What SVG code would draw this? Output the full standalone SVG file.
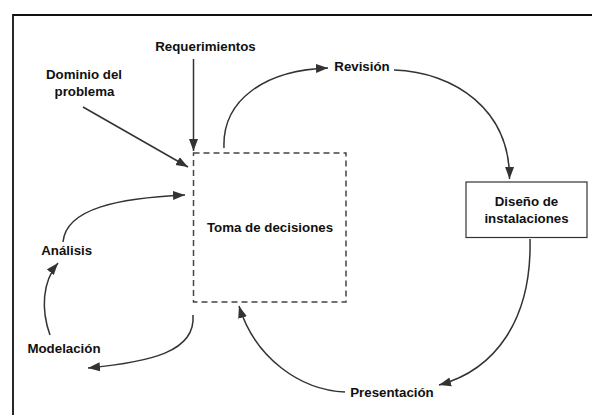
<svg xmlns="http://www.w3.org/2000/svg" width="592" height="415" viewBox="0 0 592 415">
<defs>
<marker id="arr" markerUnits="userSpaceOnUse" markerWidth="13" markerHeight="10" refX="12" refY="5" orient="auto">
<path d="M0,0.5 L12,5 L0,9.5 z" fill="#333"/>
</marker>
<style>
.t{font-family:"Liberation Sans",Arial,sans-serif;font-weight:bold;font-size:13.3px;fill:#111;text-anchor:middle}
.c{fill:none;stroke:#333;stroke-width:1.5;marker-end:url(#arr)}
</style>
</defs>
<rect width="592" height="415" fill="#fff"/>
<path d="M13,415 L13,15 L592,15" fill="none" stroke="#111" stroke-width="1.8"/>
<g id="connectors">
<path class="c" d="M193.5,59 L193.5,151"/>
<path class="c" d="M83,107 L188,167"/>
<path class="c" d="M224,148 C222,100 265,70 328,68"/>
<path class="c" d="M394,70 C455,72 510,110 509.5,179"/>
<path class="c" d="M530,239 C532,320 495,370 439,385"/>
<path class="c" d="M345,392 C300,390 255,358 239,306"/>
<path class="c" d="M193,315 C196,352 150,362 88,368"/>
<path class="c" d="M50,335 C41,310 42,282 58,263"/>
<path class="c" d="M63,242 C66,208 120,198 185,195"/>
</g>
<g id="toma">
<rect x="193.5" y="153" width="152.5" height="149" fill="none" stroke="#444" stroke-width="1.5" stroke-dasharray="6,4"/>
<text class="t" x="270" y="232">Toma de decisiones</text>
</g>
<g id="diseno">
<rect x="466" y="182" width="121" height="55.5" fill="#fff" stroke="#333" stroke-width="1.2"/>
<text class="t" x="526.5" y="206">Diseño de</text>
<text class="t" x="526.5" y="223">instalaciones</text>
</g>
<g id="requerimientos"><text class="t" x="205.5" y="51">Requerimientos</text></g>
<g id="dominio"><text class="t" x="84" y="79">Dominio del</text><text class="t" x="84.5" y="96">problema</text></g>
<g id="revision"><text class="t" x="362" y="71">Revisión</text></g>
<g id="analisis"><text class="t" x="66.7" y="255">Análisis</text></g>
<g id="modelacion"><text class="t" x="64" y="353">Modelación</text></g>
<g id="presentacion"><text class="t" x="392" y="397">Presentación</text></g>
</svg>
